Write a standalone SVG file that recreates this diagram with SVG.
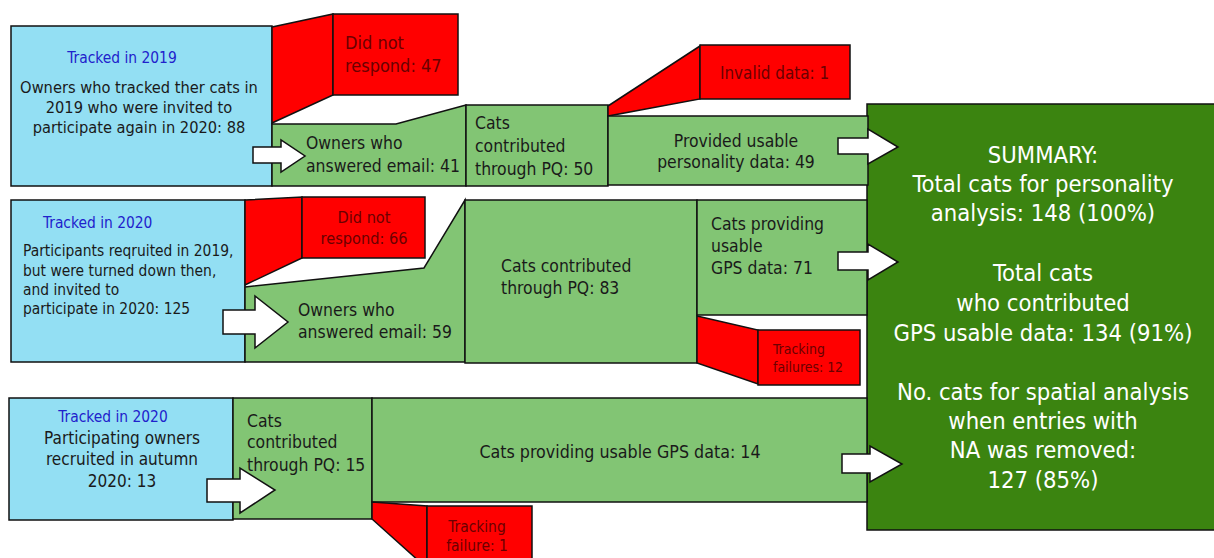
<svg xmlns="http://www.w3.org/2000/svg" width="1214" height="558" viewBox="0 0 1214 558">
<style>
.blue{fill:#93dff3;stroke:#111;stroke-width:1.5}
.green{fill:#82c574;stroke:#111;stroke-width:1.5}
.red{fill:#ff0000;stroke:#111;stroke-width:1.5}
.dark{fill:#3b8410;stroke:#111;stroke-width:1.5}
.arrow{fill:#ffffff;stroke:#111;stroke-width:1.5;stroke-linejoin:miter}
text{font-family:"DejaVu Sans Condensed","Liberation Sans",Arial,sans-serif;fill:#1a1a1a}
.hd{fill:#1f22cc;font-size:15.4px}
.rt{fill:#6a0000}
.sum{fill:#ffffff;font-size:23.6px;text-anchor:middle}
.c{text-anchor:middle}
</style>
<rect x="0" y="0" width="1214" height="558" fill="#ffffff"/>

<g id="summary">
<rect class="dark" x="867" y="104" width="352" height="426"/>
<text class="sum" x="1043" y="163">SUMMARY:</text>
<text class="sum" x="1043" y="192">Total cats for personality</text>
<text class="sum" x="1043" y="221">analysis: 148 (100%)</text>
<text class="sum" x="1043" y="281">Total cats</text>
<text class="sum" x="1043" y="311">who contributed</text>
<text class="sum" x="1043" y="341">GPS usable data: 134 (91%)</text>
<text class="sum" x="1043" y="400">No. cats for spatial analysis</text>
<text class="sum" x="1043" y="429">when entries with</text>
<text class="sum" x="1043" y="458">NA was removed:</text>
<text class="sum" x="1043" y="488">127 (85%)</text>
</g>

<!-- Row 1 -->
<g id="tracked2019">
<rect class="blue" x="11" y="26" width="261" height="160"/>
<text class="hd c" x="122" y="63">Tracked in 2019</text>
<text class="c" x="139" y="93" font-size="16.3">Owners who tracked ther cats in</text>
<text class="c" x="139" y="113" font-size="16.3">2019 who were invited to</text>
<text class="c" x="139" y="133" font-size="16.3">participate again in 2020: 88</text>
</g>
<g id="norespond47">
<polygon class="red" points="272,27 333,14 333,95 272,123"/>
<rect class="red" x="333" y="14" width="125" height="81"/>
<text class="rt" x="345" y="49" font-size="18">Did not</text>
<text class="rt" x="345" y="72" font-size="18">respond: 47</text>
</g>
<g id="answered41">
<polygon class="green" points="272,124 396,124 466,105 466,186 272,186"/>
<text x="306" y="149" font-size="17.4">Owners who</text>
<text x="306" y="172" font-size="17.4">answered email: 41</text>
</g>
<g id="pq50">
<rect class="green" x="466" y="105" width="142" height="81"/>
<text x="475" y="129" font-size="17.4">Cats</text>
<text x="475" y="152" font-size="17.4">contributed</text>
<text x="475" y="175" font-size="17.4">through PQ: 50</text>
</g>
<g id="invalid1">
<polygon class="red" points="608,106 700,46 700,99 608,116"/>
<rect class="red" x="700" y="45" width="150" height="54"/>
<text class="rt" x="720" y="79" font-size="16.9">Invalid data: 1</text>
</g>
<g id="personality49">
<rect class="green" x="608" y="116" width="260" height="69"/>
<text class="c" x="736" y="147" font-size="17.4">Provided usable</text>
<text class="c" x="736" y="168" font-size="17.4">personality data: 49</text>
</g>

<!-- Row 2 -->
<g id="tracked2020a">
<rect class="blue" x="11" y="200" width="234" height="162"/>
<text class="hd" x="43" y="228">Tracked in 2020</text>
<text x="23" y="256" font-size="15.4">Participants reqruited in 2019,</text>
<text x="23" y="276" font-size="15.4">but were turned down then,</text>
<text x="23" y="295" font-size="15.4">and invited to</text>
<text x="23" y="314" font-size="15.4">participate in 2020: 125</text>
</g>
<g id="norespond66">
<polygon class="red" points="245,200 302,197 302,258 245,285"/>
<rect class="red" x="302" y="197" width="123" height="61"/>
<text class="rt c" x="364" y="223" font-size="16.2">Did not</text>
<text class="rt c" x="364" y="244" font-size="16.2">respond: 66</text>
</g>
<g id="answered59">
<polygon class="green" points="245,287 424,268 465,200 465,362 245,362"/>
<text x="298" y="316" font-size="17.4">Owners who</text>
<text x="298" y="338" font-size="17.4">answered email: 59</text>
</g>
<g id="pq83">
<rect class="green" x="465" y="200" width="232" height="163"/>
<text x="501" y="272" font-size="17.4">Cats contributed</text>
<text x="501" y="294" font-size="17.4">through PQ: 83</text>
</g>
<g id="gps71">
<rect class="green" x="697" y="200" width="170" height="115"/>
<text x="711" y="230" font-size="17.4">Cats providing</text>
<text x="711" y="252" font-size="17.4">usable</text>
<text x="711" y="274" font-size="17.4">GPS data: 71</text>
</g>
<g id="failures12">
<polygon class="red" points="697,316 758,330 758,384 697,363"/>
<rect class="red" x="758" y="330" width="102" height="55"/>
<text class="rt" x="773" y="354" font-size="13.9">Tracking</text>
<text class="rt" x="773" y="372" font-size="13.9">failures: 12</text>
</g>

<!-- Row 3 -->
<g id="tracked2020b">
<rect class="blue" x="9" y="398" width="224" height="122"/>
<text class="hd c" x="113" y="422">Tracked in 2020</text>
<text class="c" x="122" y="444" font-size="17">Participating owners</text>
<text class="c" x="122" y="465" font-size="17">recruited in autumn</text>
<text class="c" x="122" y="487" font-size="17">2020: 13</text>
</g>
<g id="pq15">
<rect class="green" x="233" y="398" width="139" height="121"/>
<text x="247" y="427" font-size="17.4">Cats</text>
<text x="247" y="448" font-size="17.4">contributed</text>
<text x="247" y="471" font-size="17.4">through PQ: 15</text>
</g>
<g id="gps14">
<rect class="green" x="372" y="398" width="495" height="104"/>
<text class="c" x="620" y="458" font-size="17.7">Cats providing usable GPS data: 14</text>
</g>
<g id="failure1">
<polygon class="red" points="372,502 427,506 427,562 420,562 372,519"/>
<rect class="red" x="427" y="506" width="105" height="56"/>
<text class="rt c" x="477" y="532" font-size="15.4">Tracking</text>
<text class="rt c" x="477" y="551" font-size="15.4">failure: 1</text>
</g>

<g id="connectors">
<polygon class="arrow" points="253,147 281,147 281,140 305,156 281,172 281,163 253,163"/>
<polygon class="arrow" points="838,138 868,138 868,129 898,147 868,164 868,154 838,154"/>
<polygon class="arrow" points="223,310 255,310 255,296 288,322 255,348 255,334 223,334"/>
<polygon class="arrow" points="838,252 868,252 868,244 898,262 868,280 868,270 838,270"/>
<polygon class="arrow" points="207,479 240,479 240,468 275,490 240,513 240,502 207,502"/>
<polygon class="arrow" points="842,454 870,454 870,446 902,464 870,482 870,473 842,473"/>
</g>
</svg>
